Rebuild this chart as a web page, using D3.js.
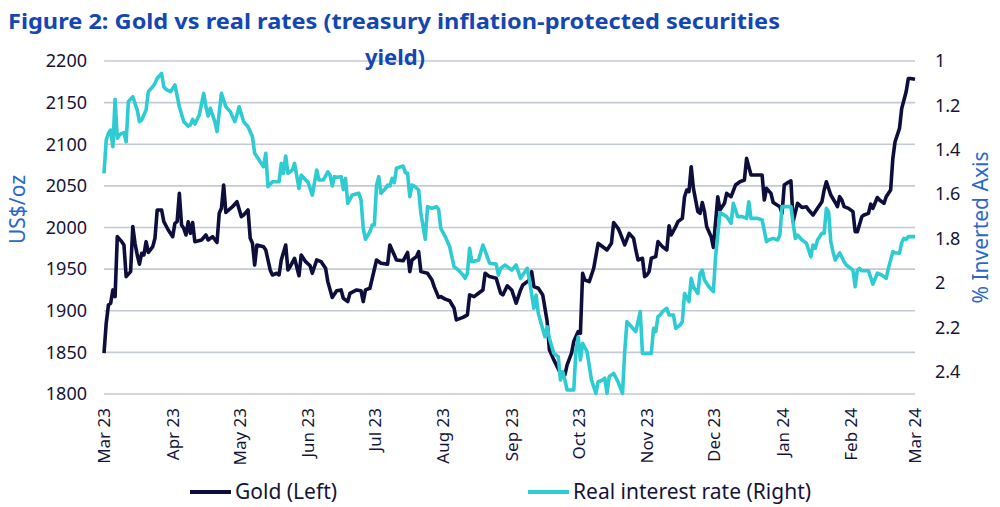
<!DOCTYPE html>
<html>
<head>
<meta charset="utf-8">
<script src="https://cdn.jsdelivr.net/npm/d3@7"></script>
<style>
  body { margin: 0; background: #fff; }
  svg { display: block; font-family: "Noto Sans", sans-serif; }
</style>
</head>
<body>
<svg id="chart" width="1000" height="507"></svg>
<script>
// gold price, US$/oz (left axis)
const goldSeries = [
  ["2023-03-01",1849],["2023-03-02",1885],["2023-03-03",1907],["2023-03-04",1909],["2023-03-05",1925],
  ["2023-03-06",1917],["2023-03-07",1989],["2023-03-09",1983],["2023-03-10",1979],["2023-03-11",1941],
  ["2023-03-13",1947],["2023-03-14",2001],["2023-03-15",1981],["2023-03-16",1967],["2023-03-17",1956],
  ["2023-03-18",1969],["2023-03-19",1967],["2023-03-20",1983],["2023-03-21",1970],["2023-03-23",1977],
  ["2023-03-24",1987],["2023-03-25",2021],["2023-03-27",2021],["2023-03-28",2007],["2023-03-30",1997],
  ["2023-04-01",1989],["2023-04-02",2005],["2023-04-03",2007],["2023-04-04",2041],["2023-04-05",2003],
  ["2023-04-06",1999],["2023-04-07",1991],["2023-04-08",2007],["2023-04-09",1993],["2023-04-10",2006],
  ["2023-04-11",1983],["2023-04-14",1985],["2023-04-16",1991],["2023-04-17",1985],["2023-04-19",1989],
  ["2023-04-21",1982],["2023-04-22",2017],["2023-04-23",2023],["2023-04-24",2051],["2023-04-25",2018],
  ["2023-04-28",2025],["2023-04-30",2031],["2023-05-02",2013],["2023-05-03",2015],["2023-05-05",2021],
  ["2023-05-06",1987],["2023-05-07",1981],["2023-05-08",1955],["2023-05-09",1979],["2023-05-12",1977],
  ["2023-05-13",1973],["2023-05-15",1949],["2023-05-16",1943],["2023-05-18",1945],["2023-05-19",1943],
  ["2023-05-20",1961],["2023-05-22",1979],["2023-05-23",1949],["2023-05-24",1953],["2023-05-26",1963],
  ["2023-05-28",1942],["2023-05-29",1967],["2023-05-31",1959],["2023-06-02",1954],["2023-06-03",1945],
  ["2023-06-05",1961],["2023-06-07",1959],["2023-06-09",1951],["2023-06-10",1935],["2023-06-12",1916],
  ["2023-06-14",1924],["2023-06-16",1925],["2023-06-17",1915],["2023-06-19",1911],["2023-06-20",1921],
  ["2023-06-23",1925],["2023-06-25",1924],["2023-06-26",1911],["2023-06-27",1925],["2023-06-29",1927],
  ["2023-07-02",1961],["2023-07-04",1957],["2023-07-07",1956],["2023-07-08",1979],["2023-07-10",1967],
  ["2023-07-11",1961],["2023-07-14",1960],["2023-07-16",1970],["2023-07-17",1947],["2023-07-18",1961],
  ["2023-07-20",1965],["2023-07-21",1971],["2023-07-22",1947],["2023-07-25",1945],["2023-07-27",1937],
  ["2023-07-28",1929],["2023-07-30",1916],["2023-07-31",1917],["2023-08-02",1914],["2023-08-04",1912],
  ["2023-08-06",1903],["2023-08-07",1889],["2023-08-10",1892],["2023-08-12",1895],["2023-08-13",1919],
  ["2023-08-15",1917],["2023-08-17",1921],["2023-08-19",1925],["2023-08-20",1945],["2023-08-22",1941],
  ["2023-08-25",1939],["2023-08-27",1921],["2023-08-28",1919],["2023-08-30",1930],["2023-09-01",1925],
  ["2023-09-03",1909],["2023-09-05",1925],["2023-09-06",1931],["2023-09-08",1935],["2023-09-09",1937],
  ["2023-09-10",1947],["2023-09-11",1929],["2023-09-13",1927],["2023-09-15",1919],["2023-09-17",1887],
  ["2023-09-18",1853],["2023-09-20",1841],["2023-09-23",1825],["2023-09-25",1823],["2023-09-26",1835],
  ["2023-09-28",1849],["2023-09-29",1863],["2023-10-01",1875],["2023-10-02",1873],["2023-10-03",1945],
  ["2023-10-04",1937],["2023-10-06",1935],["2023-10-08",1951],["2023-10-10",1981],["2023-10-11",1979],
  ["2023-10-14",1973],["2023-10-16",1981],["2023-10-17",2006],["2023-10-19",1999],["2023-10-20",1993],
  ["2023-10-22",1979],["2023-10-24",1993],["2023-10-26",1987],["2023-10-27",1973],["2023-10-28",1961],
  ["2023-10-30",1963],["2023-10-31",1941],["2023-11-01",1943],["2023-11-02",1947],["2023-11-03",1963],
  ["2023-11-05",1965],["2023-11-06",1983],["2023-11-08",1977],["2023-11-10",1973],["2023-11-11",2002],
  ["2023-11-12",1991],["2023-11-14",2001],["2023-11-15",2007],["2023-11-17",2011],["2023-11-18",2037],
  ["2023-11-19",2045],["2023-11-20",2043],["2023-11-21",2073],["2023-11-22",2047],["2023-11-24",2019],
  ["2023-11-25",2017],["2023-11-26",2030],["2023-11-27",2019],["2023-11-28",2001],["2023-11-30",1989],
  ["2023-12-01",1976],["2023-12-03",2037],["2023-12-04",2021],["2023-12-06",2029],["2023-12-07",2041],
  ["2023-12-09",2037],["2023-12-11",2051],["2023-12-13",2055],["2023-12-15",2057],["2023-12-16",2083],
  ["2023-12-18",2063],["2023-12-19",2063],["2023-12-23",2063],["2023-12-24",2033],["2023-12-25",2047],
  ["2023-12-27",2041],["2023-12-28",2030],["2023-12-31",2025],["2024-01-01",2017],["2024-01-02",2051],
  ["2024-01-03",2053],["2024-01-05",2056],["2024-01-06",2007],["2024-01-08",2029],["2024-01-10",2024],
  ["2024-01-12",2025],["2024-01-13",2021],["2024-01-15",2015],["2024-01-17",2023],["2024-01-19",2031],
  ["2024-01-20",2045],["2024-01-21",2055],["2024-01-23",2039],["2024-01-25",2030],["2024-01-26",2025],
  ["2024-01-27",2037],["2024-01-28",2033],["2024-01-29",2025],["2024-01-31",2023],["2024-02-02",2019],
  ["2024-02-03",1995],["2024-02-04",1995],["2024-02-06",2013],["2024-02-07",2015],["2024-02-09",2017],
  ["2024-02-10",2028],["2024-02-11",2023],["2024-02-13",2036],["2024-02-14",2033],["2024-02-16",2029],
  ["2024-02-17",2037],["2024-02-19",2045],["2024-02-20",2083],["2024-02-21",2103],["2024-02-23",2119],
  ["2024-02-24",2143],["2024-02-26",2163],["2024-02-27",2179],["2024-02-28",2179],["2024-03-01",2178]
];

// real interest rate, % (right axis, inverted)
const rateSeries = [
  ["2023-03-01",1.506],["2023-03-02",1.356],["2023-03-03",1.326],["2023-03-04",1.311],["2023-03-05",1.386],
  ["2023-03-06",1.173],["2023-03-07",1.348],["2023-03-08",1.333],["2023-03-09",1.326],["2023-03-10",1.323],
  ["2023-03-11",1.364],["2023-03-12",1.183],["2023-03-14",1.161],["2023-03-16",1.221],["2023-03-17",1.273],
  ["2023-03-18",1.266],["2023-03-20",1.221],["2023-03-21",1.138],["2023-03-23",1.116],["2023-03-24",1.101],
  ["2023-03-25",1.078],["2023-03-27",1.056],["2023-03-28",1.116],["2023-03-29",1.128],["2023-03-31",1.138],
  ["2023-04-02",1.108],["2023-04-04",1.206],["2023-04-06",1.273],["2023-04-08",1.293],["2023-04-09",1.288],
  ["2023-04-10",1.263],["2023-04-11",1.284],["2023-04-13",1.243],["2023-04-15",1.146],["2023-04-16",1.206],
  ["2023-04-17",1.248],["2023-04-18",1.213],["2023-04-20",1.273],["2023-04-21",1.318],["2023-04-23",1.146],
  ["2023-04-25",1.206],["2023-04-27",1.228],["2023-04-29",1.273],["2023-04-30",1.243],["2023-05-01",1.206],
  ["2023-05-03",1.273],["2023-05-05",1.296],["2023-05-07",1.341],["2023-05-08",1.416],["2023-05-10",1.446],
  ["2023-05-12",1.476],["2023-05-13",1.416],["2023-05-14",1.566],["2023-05-16",1.544],["2023-05-19",1.544],
  ["2023-05-20",1.461],["2023-05-21",1.506],["2023-05-22",1.428],["2023-05-23",1.506],["2023-05-25",1.491],
  ["2023-05-26",1.461],["2023-05-28",1.574],["2023-05-29",1.514],["2023-05-31",1.536],["2023-06-01",1.544],
  ["2023-06-03",1.604],["2023-06-05",1.491],["2023-06-06",1.536],["2023-06-08",1.536],["2023-06-10",1.499],
  ["2023-06-11",1.514],["2023-06-12",1.563],["2023-06-13",1.521],["2023-06-14",1.524],["2023-06-16",1.521],
  ["2023-06-17",1.578],["2023-06-18",1.529],["2023-06-19",1.641],["2023-06-21",1.604],["2023-06-24",1.596],
  ["2023-06-25",1.626],["2023-06-26",1.754],["2023-06-27",1.803],["2023-06-29",1.769],["2023-06-30",1.739],
  ["2023-07-01",1.739],["2023-07-02",1.559],["2023-07-03",1.521],["2023-07-04",1.596],["2023-07-06",1.574],
  ["2023-07-07",1.559],["2023-07-08",1.563],["2023-07-09",1.529],["2023-07-10",1.548],["2023-07-11",1.483],
  ["2023-07-13",1.476],["2023-07-14",1.473],["2023-07-15",1.503],["2023-07-16",1.506],["2023-07-17",1.611],
  ["2023-07-18",1.559],["2023-07-19",1.563],["2023-07-21",1.581],["2023-07-22",1.686],["2023-07-24",1.803],
  ["2023-07-25",1.656],["2023-07-27",1.664],["2023-07-29",1.656],["2023-07-30",1.668],["2023-07-31",1.754],
  ["2023-08-02",1.791],["2023-08-04",1.837],["2023-08-06",1.927],["2023-08-08",1.942],["2023-08-10",1.964],
  ["2023-08-11",1.979],["2023-08-12",1.956],["2023-08-13",1.844],["2023-08-14",1.904],["2023-08-17",1.897],
  ["2023-08-19",1.829],["2023-08-20",1.855],["2023-08-22",1.911],["2023-08-25",1.915],["2023-08-26",1.964],
  ["2023-08-27",1.934],["2023-08-29",1.919],["2023-08-30",1.927],["2023-09-01",1.942],["2023-09-03",1.919],
  ["2023-09-05",1.979],["2023-09-07",1.949],["2023-09-08",1.934],["2023-09-09",1.987],["2023-09-11",2.114],
  ["2023-09-12",2.054],["2023-09-13",2.137],["2023-09-16",2.242],["2023-09-17",2.197],["2023-09-18",2.249],
  ["2023-09-20",2.317],["2023-09-22",2.332],["2023-09-23",2.437],["2023-09-24",2.400],["2023-09-25",2.437],
  ["2023-09-26",2.482],["2023-09-29",2.482],["2023-09-30",2.302],["2023-10-01",2.242],["2023-10-02",2.347],
  ["2023-10-03",2.272],["2023-10-05",2.309],["2023-10-07",2.437],["2023-10-09",2.497],["2023-10-10",2.445],
  ["2023-10-12",2.437],["2023-10-13",2.429],["2023-10-14",2.497],["2023-10-15",2.422],["2023-10-17",2.407],
  ["2023-10-19",2.445],["2023-10-21",2.497],["2023-10-22",2.309],["2023-10-23",2.174],["2023-10-25",2.197],
  ["2023-10-27",2.219],["2023-10-29",2.129],["2023-10-30",2.317],["2023-11-01",2.317],["2023-11-03",2.317],
  ["2023-11-04",2.204],["2023-11-05",2.219],["2023-11-06",2.152],["2023-11-07",2.144],["2023-11-08",2.129],
  ["2023-11-10",2.114],["2023-11-11",2.144],["2023-11-13",2.144],["2023-11-14",2.204],["2023-11-16",2.189],
  ["2023-11-17",2.174],["2023-11-18",2.047],["2023-11-20",2.084],["2023-11-21",1.979],["2023-11-22",2.017],
  ["2023-11-24",2.047],["2023-11-25",1.956],["2023-11-26",1.942],["2023-11-27",1.987],["2023-11-29",2.017],
  ["2023-12-01",2.039],["2023-12-02",1.882],["2023-12-04",1.683],["2023-12-07",1.701],["2023-12-09",1.731],
  ["2023-12-10",1.641],["2023-12-12",1.701],["2023-12-14",1.701],["2023-12-16",1.709],["2023-12-17",1.634],
  ["2023-12-18",1.709],["2023-12-21",1.709],["2023-12-23",1.716],["2023-12-25",1.814],["2023-12-26",1.806],
  ["2023-12-28",1.799],["2023-12-30",1.806],["2023-12-31",1.784],["2024-01-01",1.656],["2024-01-03",1.656],
  ["2024-01-05",1.656],["2024-01-06",1.731],["2024-01-07",1.799],["2024-01-08",1.784],["2024-01-10",1.806],
  ["2024-01-12",1.821],["2024-01-14",1.882],["2024-01-15",1.829],["2024-01-16",1.844],["2024-01-17",1.806],
  ["2024-01-19",1.776],["2024-01-20",1.776],["2024-01-21",1.664],["2024-01-22",1.679],["2024-01-23",1.814],
  ["2024-01-24",1.859],["2024-01-25",1.897],["2024-01-27",1.864],["2024-01-29",1.904],["2024-01-30",1.919],
  ["2024-02-01",1.934],["2024-02-02",1.942],["2024-02-03",2.017],["2024-02-04",1.942],["2024-02-05",1.934],
  ["2024-02-06",1.945],["2024-02-09",1.945],["2024-02-11",2.005],["2024-02-13",1.956],["2024-02-15",1.964],
  ["2024-02-17",1.979],["2024-02-18",1.934],["2024-02-20",1.859],["2024-02-21",1.864],["2024-02-23",1.866],
  ["2024-02-24",1.818],["2024-02-25",1.799],["2024-02-26",1.803],["2024-02-27",1.791],["2024-03-01",1.791]
];

const goldTicks = [1800, 1850, 1900, 1950, 2000, 2050, 2100, 2150, 2200];
const rateTicks = [1, 1.2, 1.4, 1.6, 1.8, 2, 2.2, 2.4];
const dateRange = ["2023-03-01", "2024-03-01"];
const titleLines = ["Figure 2: Gold vs real rates (treasury inflation-protected securities", "yield)"];
const legendLabels = ["Gold (Left)", "Real interest rate (Right)"];

const parse = d3.utcParse("%Y-%m-%d");
const gold = goldSeries.map(d => ({ date: parse(d[0]), value: d[1] }));
const rate = rateSeries.map(d => ({ date: parse(d[0]), value: d[1] }));

const svg = d3.select("#chart");
const plotLeft = 104, plotRight = 915, plotTop = 61, plotBottom = 394;

const x = d3.scaleUtc().domain(dateRange.map(parse)).range([plotLeft, plotRight]);
const yGold = d3.scaleLinear().domain([1800, 2200]).range([plotBottom, plotTop]);
const yRate = d3.scaleLinear().domain([1, 2.5]).range([plotTop, plotBottom]); // inverted

const navy = "#0e0e3c", teal = "#2ecbd3", textCol = "#14143a", blue = "#1446b4", axisBlue = "#2a66cc";

// gridlines on the gold scale
svg.append("g")
  .selectAll("line")
  .data(goldTicks)
  .join("line")
  .attr("x1", plotLeft).attr("x2", plotRight)
  .attr("y1", d => yGold(d)).attr("y2", d => yGold(d))
  .attr("stroke", "#c3cad5")
  .attr("stroke-width", 1.6);

// left axis labels
const gLeft = svg.append("g")
  .attr("transform", `translate(${plotLeft},0)`)
  .call(d3.axisLeft(yGold).tickValues(goldTicks).tickSize(0).tickPadding(17).tickFormat(d3.format("d")));
gLeft.select(".domain").remove();
gLeft.selectAll("text").attr("font-size", 18).attr("fill", textCol).attr("font-family", "Noto Sans");

// right axis labels (inverted)
const gRight = svg.append("g")
  .attr("transform", `translate(${plotRight},0)`)
  .call(d3.axisRight(yRate).tickValues(rateTicks).tickSize(0).tickPadding(20).tickFormat(d3.format("")));
gRight.select(".domain").remove();
gRight.selectAll("text").attr("font-size", 18).attr("fill", textCol).attr("font-family", "Noto Sans");

// bottom axis, rotated month labels
const gBottom = svg.append("g")
  .attr("transform", `translate(0,${plotBottom})`)
  .call(d3.axisBottom(x).ticks(d3.utcMonth.every(1)).tickSize(0).tickFormat(d3.utcFormat("%b %y")));
gBottom.select(".domain").remove();
gBottom.selectAll("text")
  .attr("font-size", 17).attr("fill", textCol).attr("font-family", "Noto Sans")
  .attr("text-anchor", "end")
  .attr("transform", "rotate(-90)")
  .attr("x", -14).attr("y", 0).attr("dy", "0.35em");

// lines
const goldLine = d3.line().x(d => x(d.date)).y(d => yGold(d.value));
const rateLine = d3.line().x(d => x(d.date)).y(d => yRate(d.value));

svg.append("path").datum(gold)
  .attr("d", goldLine).attr("fill", "none")
  .attr("stroke", navy).attr("stroke-width", 3.6).attr("stroke-linejoin", "round");

svg.append("path").datum(rate)
  .attr("d", rateLine).attr("fill", "none")
  .attr("stroke", teal).attr("stroke-width", 3.6).attr("stroke-linejoin", "round");

// axis titles
svg.append("text")
  .attr("transform", `translate(25,${(plotTop + plotBottom) / 2 - 18}) rotate(-90)`)
  .attr("text-anchor", "middle")
  .attr("font-size", 21).attr("fill", axisBlue)
  .text("US$/oz");

svg.append("text")
  .attr("transform", `translate(988,${(plotTop + plotBottom) / 2}) rotate(-90)`)
  .attr("text-anchor", "middle")
  .attr("font-size", 21).attr("fill", axisBlue)
  .text("% Inverted Axis");

// title
svg.append("text")
  .attr("x", 8).attr("y", 29)
  .attr("font-size", 22).attr("font-weight", "bold").attr("fill", blue)
  .attr("textLength", 772).attr("lengthAdjust", "spacingAndGlyphs")
  .text(titleLines[0]);
svg.append("text")
  .attr("x", 395).attr("y", 65)
  .attr("text-anchor", "middle")
  .attr("font-size", 22).attr("font-weight", "bold").attr("fill", blue)
  .text(titleLines[1]);

// legend
const legend = svg.append("g").attr("font-size", 21).attr("fill", textCol);
const legendItems = [
  { label: legendLabels[0], color: navy, x: 190 },
  { label: legendLabels[1], color: teal, x: 528 }
];
legendItems.forEach(item => {
  legend.append("line")
    .attr("x1", item.x).attr("x2", item.x + 41)
    .attr("y1", 492).attr("y2", 492)
    .attr("stroke", item.color).attr("stroke-width", 4);
  legend.append("text")
    .attr("x", item.x + 45).attr("y", 499)
    .text(item.label);
});
</script>
</body>
</html>
